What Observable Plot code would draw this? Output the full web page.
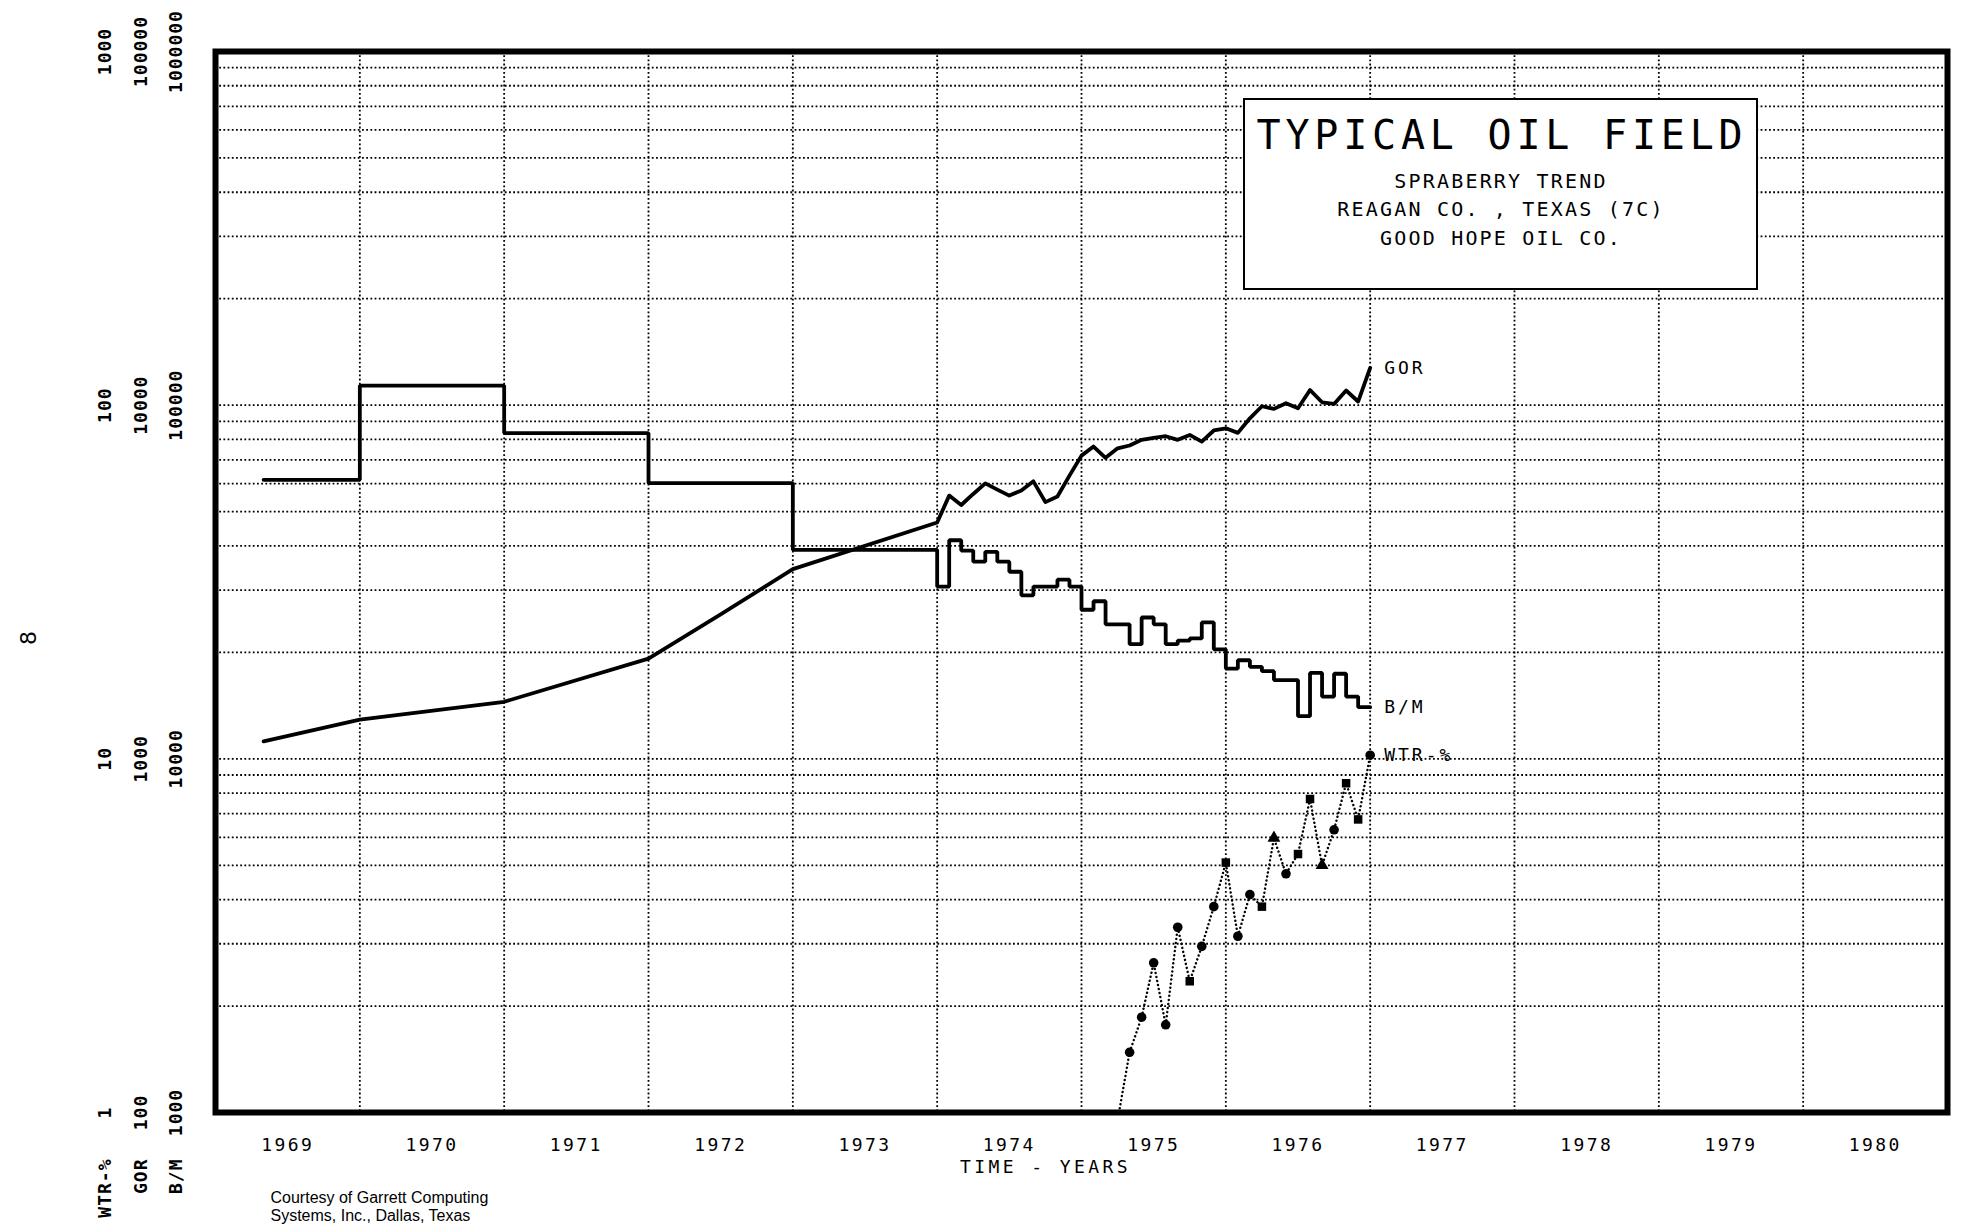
<!DOCTYPE html>
<html>
<head>
<meta charset="utf-8">
<script src="https://cdn.jsdelivr.net/npm/d3@7"></script>
<script src="https://cdn.jsdelivr.net/npm/@observablehq/plot@0.6"></script>
<style>
  html, body { margin: 0; padding: 0; background: #fff; }
  #chart svg { display: block; }
  g[aria-description="year-labels"] text { letter-spacing: 2.4px; }
  g[aria-description="axis-title"] text { letter-spacing: 3.4px; }
  g[aria-description="series-labels"] text { letter-spacing: 3px; }
  g[aria-description="y-labels"] text { letter-spacing: 1px; }
  g[aria-description="unit-names"] text { letter-spacing: 1px; }
</style>
</head>
<body>
<div id="chart"></div>
<script>
// ---------- tick labels ----------
const years = [1969, 1970, 1971, 1972, 1973, 1974, 1975, 1976, 1977, 1978, 1979, 1980];
const wtrTicks = [1, 10, 100, 1000];                       // WTR-% (%)
const gorTickLabels = ["100", "1000", "10000", "100000"];   // GOR (cu ft / bbl)
const bmTickLabels = ["1000", "10000", "100000", "1000000"]; // B/M (barrels per month)
const unitNames = ["WTR-%", "GOR", "B/M"];

// ---------- series ----------
// GOR (cu ft per bbl)
const gorDates = ["1969-05", "1970-01", "1971-01", "1972-01", "1972-07", "1973-01", "1974-01",
  "1974-02", "1974-03", "1974-04", "1974-05", "1974-06", "1974-07", "1974-08", "1974-09", "1974-10", "1974-11", "1974-12",
  "1975-01", "1975-02", "1975-03", "1975-04", "1975-05", "1975-06", "1975-07", "1975-08", "1975-09", "1975-10", "1975-11", "1975-12",
  "1976-01", "1976-02", "1976-03", "1976-04", "1976-05", "1976-06", "1976-07", "1976-08", "1976-09", "1976-10", "1976-11", "1976-12",
  "1977-01"];
const gorValues = [1120, 1290, 1450, 1920, 2560, 3440, 4660,
  5550, 5220, 5610, 6010, 5770, 5550, 5740, 6090, 5320, 5520, 6320,
  7200, 7640, 7100, 7550, 7690, 7980, 8080, 8170, 7980, 8240, 7890, 8480,
  8600, 8350, 9180, 9930, 9760, 10130, 9800, 11040, 10190, 10080, 11000, 10240,
  12750];

// B/M (barrels per month), step series
const bmDates = ["1969-05", "1970-01", "1971-01", "1972-01", "1973-01",
  "1974-01", "1974-02", "1974-03", "1974-04", "1974-05", "1974-06", "1974-07", "1974-08", "1974-09", "1974-10", "1974-11", "1974-12",
  "1975-01", "1975-02", "1975-03", "1975-04", "1975-05", "1975-06", "1975-07", "1975-08", "1975-09", "1975-10", "1975-11", "1975-12",
  "1976-01", "1976-02", "1976-03", "1976-04", "1976-05", "1976-06", "1976-07", "1976-08", "1976-09", "1976-10", "1976-11", "1976-12",
  "1977-01"];
const bmValues = [61500, 113600, 83400, 60200, 39000,
  30700, 41500, 38800, 36100, 38500, 36100, 33800, 29000, 30700, 30700, 32100, 30700,
  26400, 27900, 24000, 24000, 21100, 25100, 24000, 21100, 21600, 21900, 24300, 20400,
  18000, 19000, 18200, 17700, 16700, 16700, 13200, 17500, 15000, 17400, 15000, 14000,
  14000];

// WTR-% (percent water)
const wtrDates = ["1975-04", "1975-05", "1975-06", "1975-07", "1975-08", "1975-09", "1975-10", "1975-11", "1975-12",
  "1976-01", "1976-02", "1976-03", "1976-04", "1976-05", "1976-06", "1976-07", "1976-08", "1976-09", "1976-10", "1976-11", "1976-12",
  "1977-01"];
const wtrValues = [0.95, 1.48, 1.86, 2.65, 1.77, 3.34, 2.35, 2.95, 3.82,
  5.09, 3.15, 4.13, 3.82, 5.97, 4.73, 5.38, 7.70, 5.00, 6.30, 8.53, 6.74,
  10.24];
const wtrSymbols = ["circle", "circle", "circle", "circle", "circle", "circle", "square", "circle", "circle",
  "square", "circle", "circle", "square", "triangle", "circle", "square", "square", "triangle", "circle", "square", "square",
  "circle"];

// ---------- build tables ----------
const toYear = s => { const [y, m] = s.split("-").map(Number); return y + (m - 1) / 12; };
// All three series share one log axis in WTR-% units; GOR axis = 100x, B/M axis = 1000x
const gor = gorDates.map((d, i) => ({t: toYear(d), v: gorValues[i] / 100}));
const bm = bmDates.map((d, i) => ({t: toYear(d), v: bmValues[i] / 1000}));
const wtr = wtrDates.map((d, i) => ({t: toYear(d), v: wtrValues[i], s: wtrSymbols[i]}));

const gridY = [];
for (const base of [1, 10, 100]) for (let k = 1; k <= 9; k++) if (base * k > 1) gridY.push(base * k);

const mono = "'DejaVu Sans Mono', 'Liberation Mono', monospace";
const gridStyle = {stroke: "#000", strokeWidth: 1.8, strokeDasharray: "1.8,2.4"};

const symbolMarks = ["circle", "square", "triangle"].map(sym =>
  Plot.dot(wtr.filter(d => d.s === sym), {x: "t", y: "v", symbol: sym, r: 4.8, fill: "#000", stroke: "none", clip: true})
);

const plot = Plot.plot({
  width: 1961,
  height: 1227,
  marginLeft: 215,
  marginRight: 14,
  marginTop: 51,
  marginBottom: 115,
  x: {domain: [1969, 1981], axis: null},
  y: {type: "log", domain: [1, 1000], axis: null},
  style: {fontFamily: mono, background: "white", color: "black", overflow: "visible"},
  marks: [
    Plot.ruleY(gridY, gridStyle),
    Plot.ruleX(years.slice(1), gridStyle),
    Plot.line(gor, {x: "t", y: "v", stroke: "#000", strokeWidth: 3.8, strokeLinejoin: "round", strokeLinecap: "round"}),
    Plot.line(bm, {x: "t", y: "v", curve: "step-after", stroke: "#000", strokeWidth: 3.8, strokeLinejoin: "miter"}),
    Plot.line(wtr, {x: "t", y: "v", stroke: "#000", strokeWidth: 2.4, strokeDasharray: "0.1,4", strokeLinecap: "round", clip: true}),
    ...symbolMarks,
    Plot.frame({stroke: "#000", strokeWidth: 6}),
    // left stacked log-axis labels
    Plot.text(wtrTicks, {frameAnchor: "left", y: d => d, text: d => String(d), rotate: -90, dx: -110,
      textAnchor: "middle", lineAnchor: "middle", fontSize: 18, fontWeight: "bold", ariaDescription: "y-labels"}),
    Plot.text(wtrTicks, {frameAnchor: "left", y: d => d, text: (d, i) => gorTickLabels[i], rotate: -90, dx: -74,
      textAnchor: "middle", lineAnchor: "middle", fontSize: 18, fontWeight: "bold", ariaDescription: "y-labels"}),
    Plot.text(wtrTicks, {frameAnchor: "left", y: d => d, text: (d, i) => bmTickLabels[i], rotate: -90, dx: -39,
      textAnchor: "middle", lineAnchor: "middle", fontSize: 18, fontWeight: "bold", ariaDescription: "y-labels"}),
    ...unitNames.map((name, i) => Plot.text([name], {frameAnchor: "bottom-left", rotate: -90,
      dx: [-110, -74, -39][i], dy: 46, textAnchor: "end", lineAnchor: "middle", fontSize: 18, fontWeight: "bold", ariaDescription: "unit-names"})),
    // x axis year labels
    Plot.text(years, {x: d => d + 0.5, text: d => String(d), frameAnchor: "bottom", dy: 38, lineAnchor: "bottom",
      fontSize: 18, ariaDescription: "year-labels"}),
    Plot.text(["TIME - YEARS"], {frameAnchor: "bottom", dx: -36, dy: 60, lineAnchor: "bottom", fontSize: 18, ariaDescription: "axis-title"}),
    // series labels
    Plot.text([gor[gor.length - 1]], {x: "t", y: "v", text: () => "GOR", dx: 14, textAnchor: "start", lineAnchor: "middle", fontSize: 18, ariaDescription: "series-labels"}),
    Plot.text([bm[bm.length - 1]], {x: "t", y: "v", text: () => "B/M", dx: 14, textAnchor: "start", lineAnchor: "middle", fontSize: 18, ariaDescription: "series-labels"}),
    Plot.text([wtr[wtr.length - 1]], {x: "t", y: "v", text: () => "WTR-%", dx: 14, textAnchor: "start", lineAnchor: "middle", fontSize: 18, ariaDescription: "series-labels"}),
    // caption and page number
    Plot.text(["Courtesy of Garrett Computing\nSystems, Inc., Dallas, Texas"], {frameAnchor: "bottom-left", dx: 55, dy: 77,
      textAnchor: "start", lineAnchor: "top", lineHeight: 1.15, fontSize: 16, fontFamily: "'Liberation Sans', Arial, sans-serif"}),
    Plot.text(["8"], {frameAnchor: "left", dx: -187, dy: 56, rotate: -90, textAnchor: "middle", lineAnchor: "middle",
      fontSize: 22, fontFamily: "'DejaVu Sans', sans-serif"})
  ]
});

document.getElementById("chart").appendChild(plot);

// ---------- title box annotation ----------
const svg = d3.select(plot);
const box = svg.append("g").attr("font-family", mono).attr("fill", "#000");
box.append("rect").attr("x", 1244).attr("y", 99).attr("width", 513).attr("height", 190)
  .attr("fill", "white").attr("stroke", "#000").attr("stroke-width", 2);
box.append("text").attr("x", 1502).attr("y", 149).attr("text-anchor", "middle")
  .attr("font-size", 40).attr("letter-spacing", "4.8px").text("TYPICAL OIL FIELD");
const subLines = ["SPRABERRY TREND", "REAGAN CO. , TEXAS (7C)", "GOOD HOPE OIL CO."];
const subY = [188, 216, 245];
subLines.forEach((s, i) => {
  box.append("text").attr("x", 1501).attr("y", subY[i]).attr("text-anchor", "middle")
    .attr("font-size", 20).attr("letter-spacing", "2.2px")
    .style("white-space", "pre").text(s);
});
</script>
</body>
</html>
